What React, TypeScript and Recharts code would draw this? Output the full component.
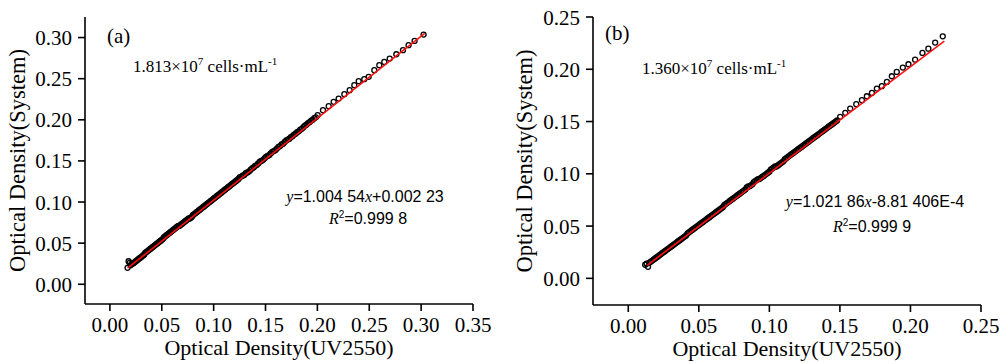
import React from 'react';
import { ScatterChart, Scatter, XAxis, YAxis } from 'recharts';

// Panel (a): UV2550 vs System, 1.813e7 cells/mL
const uvA = [
  0.017, 0.018, 0.019, 0.020, 0.021, 0.023, 0.025, 0.027, 0.029, 0.031,
  0.033, 0.035, 0.037, 0.039, 0.041, 0.043, 0.045, 0.047, 0.049, 0.051,
  0.053, 0.055, 0.057, 0.059, 0.061, 0.063, 0.065, 0.067, 0.069, 0.071,
  0.073, 0.075, 0.077, 0.079, 0.081, 0.083, 0.085, 0.087, 0.089, 0.091,
  0.093, 0.095, 0.097, 0.099, 0.101, 0.103, 0.105, 0.107, 0.109, 0.111,
  0.113, 0.115, 0.117, 0.119, 0.121, 0.123, 0.125, 0.128, 0.131, 0.134,
  0.137, 0.140, 0.143, 0.146, 0.149, 0.152, 0.155, 0.158, 0.161, 0.164,
  0.167, 0.170, 0.173, 0.176, 0.179, 0.182, 0.185, 0.188, 0.191, 0.194,
  0.197, 0.2003, 0.2054, 0.2109, 0.2157, 0.2205, 0.226, 0.2311, 0.2356, 0.2398,
  0.2452, 0.2494, 0.2549, 0.2597, 0.2645, 0.2697, 0.2761, 0.2825, 0.2879, 0.2937,
  0.3024,
];
const sysA = [
  0.020, 0.028, 0.026, 0.023, 0.025, 0.026, 0.028, 0.030, 0.032, 0.034,
  0.036, 0.039, 0.041, 0.043, 0.045, 0.047, 0.049, 0.051, 0.053, 0.055,
  0.058, 0.060, 0.062, 0.064, 0.066, 0.068, 0.070, 0.071, 0.073, 0.075,
  0.077, 0.079, 0.080, 0.082, 0.085, 0.087, 0.089, 0.091, 0.093, 0.095,
  0.097, 0.099, 0.101, 0.103, 0.105, 0.107, 0.109, 0.111, 0.113, 0.115,
  0.117, 0.119, 0.121, 0.123, 0.125, 0.127, 0.130, 0.132, 0.135, 0.137,
  0.141, 0.144, 0.147, 0.150, 0.153, 0.156, 0.159, 0.162, 0.165, 0.168,
  0.171, 0.175, 0.177, 0.180, 0.183, 0.186, 0.189, 0.193, 0.196, 0.199,
  0.202, 0.2056, 0.2117, 0.2165, 0.2218, 0.2258, 0.2311, 0.236, 0.2421, 0.247,
  0.2494, 0.2522, 0.2603, 0.2664, 0.2704, 0.2745, 0.2797, 0.2846, 0.2907, 0.2959,
  0.3036,
];
// in-between readings of the dense band
const uvA2 = [
  0.022, 0.024, 0.026, 0.028, 0.030, 0.032, 0.034, 0.036, 0.038, 0.040,
  0.042, 0.044, 0.046, 0.048, 0.050, 0.052, 0.054, 0.056, 0.058, 0.060,
  0.062, 0.064, 0.066, 0.068, 0.070, 0.072, 0.074, 0.076, 0.078, 0.080,
  0.082, 0.084, 0.086, 0.088, 0.090, 0.092, 0.094, 0.096, 0.098, 0.100,
  0.102, 0.104, 0.106, 0.108, 0.110, 0.112, 0.114, 0.116, 0.118, 0.120,
  0.122, 0.124, 0.1265, 0.1295, 0.1325, 0.1355, 0.1385, 0.1415, 0.1445, 0.1475,
  0.1505, 0.1535, 0.1565, 0.1595, 0.1625, 0.1655, 0.1685, 0.1715, 0.1745, 0.1775,
  0.1805, 0.1835, 0.1865, 0.1895, 0.1925, 0.1955, 0.1985,
];
const sysA2 = [
  0.025, 0.027, 0.029, 0.031, 0.033, 0.035, 0.038, 0.040, 0.042, 0.044,
  0.046, 0.048, 0.050, 0.052, 0.054, 0.057, 0.059, 0.061, 0.063, 0.065,
  0.067, 0.069, 0.071, 0.072, 0.074, 0.076, 0.078, 0.080, 0.081, 0.084,
  0.086, 0.088, 0.090, 0.092, 0.094, 0.096, 0.098, 0.100, 0.102, 0.104,
  0.106, 0.108, 0.110, 0.112, 0.114, 0.116, 0.118, 0.120, 0.122, 0.124,
  0.126, 0.128, 0.131, 0.133, 0.136, 0.139, 0.142, 0.145, 0.149, 0.151,
  0.155, 0.157, 0.161, 0.163, 0.167, 0.170, 0.173, 0.176, 0.179, 0.182,
  0.185, 0.188, 0.191, 0.194, 0.197, 0.200, 0.203,
];
const fitUvA = [0.017, 0.3035];
const fitSysA = [0.0195, 0.305];

// Panel (b): 1.360e7 cells/mL
const uvB = [
  0.012, 0.013, 0.014, 0.015, 0.016, 0.018, 0.020, 0.022, 0.024, 0.026,
  0.028, 0.030, 0.032, 0.034, 0.036, 0.038, 0.040, 0.042, 0.044, 0.046,
  0.048, 0.050, 0.052, 0.054, 0.056, 0.058, 0.060, 0.062, 0.064, 0.066,
  0.068, 0.070, 0.072, 0.074, 0.076, 0.078, 0.080, 0.082, 0.084, 0.086,
  0.088, 0.090, 0.092, 0.094, 0.096, 0.098, 0.100, 0.102, 0.104, 0.106,
  0.108, 0.110, 0.112, 0.114, 0.116, 0.118, 0.120, 0.122, 0.124, 0.126,
  0.128, 0.130, 0.132, 0.134, 0.136, 0.138, 0.140, 0.142, 0.144, 0.146,
  0.148, 0.1502, 0.1538, 0.1573, 0.1616, 0.1656, 0.1691, 0.1727, 0.1762, 0.1797,
  0.1833, 0.1868, 0.1903, 0.1946, 0.1986, 0.2033, 0.2085, 0.2127, 0.2175, 0.2229,
];
const sysB = [
  0.013, 0.014, 0.011, 0.015, 0.016, 0.018, 0.020, 0.022, 0.024, 0.026,
  0.028, 0.030, 0.032, 0.034, 0.036, 0.038, 0.040, 0.043, 0.045, 0.047,
  0.049, 0.051, 0.053, 0.055, 0.057, 0.059, 0.061, 0.063, 0.065, 0.067,
  0.070, 0.072, 0.074, 0.076, 0.078, 0.080, 0.082, 0.084, 0.087, 0.088,
  0.090, 0.093, 0.095, 0.096, 0.098, 0.100, 0.102, 0.105, 0.107, 0.108,
  0.110, 0.112, 0.115, 0.117, 0.119, 0.121, 0.123, 0.125, 0.127, 0.129,
  0.131, 0.133, 0.135, 0.137, 0.139, 0.141, 0.143, 0.145, 0.147, 0.149,
  0.151, 0.1545, 0.1583, 0.1624, 0.1666, 0.1704, 0.1742, 0.1774, 0.1815, 0.1838,
  0.1879, 0.1933, 0.1975, 0.2016, 0.2048, 0.2092, 0.2156, 0.2197, 0.2255, 0.2315,
];
const uvB2 = [
  0.017, 0.019, 0.021, 0.023, 0.025, 0.027, 0.029, 0.031, 0.033, 0.035,
  0.037, 0.039, 0.041, 0.043, 0.045, 0.047, 0.049, 0.051, 0.053, 0.055,
  0.057, 0.059, 0.061, 0.063, 0.065, 0.067, 0.069, 0.071, 0.073, 0.075,
  0.077, 0.079, 0.081, 0.083, 0.085, 0.087, 0.089, 0.091, 0.093, 0.095,
  0.097, 0.099, 0.101, 0.103, 0.105, 0.107, 0.109, 0.111, 0.113, 0.115,
  0.117, 0.119, 0.121, 0.123, 0.125, 0.127, 0.129, 0.131, 0.133, 0.135,
  0.137, 0.139, 0.141, 0.143, 0.145, 0.147,
];
const sysB2 = [
  0.017, 0.019, 0.021, 0.023, 0.025, 0.027, 0.029, 0.031, 0.033, 0.035,
  0.037, 0.039, 0.041, 0.044, 0.046, 0.048, 0.050, 0.052, 0.054, 0.056,
  0.058, 0.060, 0.062, 0.064, 0.066, 0.068, 0.071, 0.073, 0.075, 0.077,
  0.079, 0.081, 0.083, 0.085, 0.088, 0.089, 0.092, 0.094, 0.095, 0.097,
  0.099, 0.101, 0.104, 0.106, 0.107, 0.109, 0.111, 0.114, 0.116, 0.118,
  0.120, 0.122, 0.124, 0.126, 0.128, 0.130, 0.132, 0.134, 0.136, 0.138,
  0.140, 0.142, 0.144, 0.146, 0.148, 0.150,
];
const fitUvB = [0.0135, 0.224];
const fitSysB = [0.0125, 0.227];

const ticksA_X = [0, 0.05, 0.1, 0.15, 0.2, 0.25, 0.3, 0.35];
const ticksA_Y = [0, 0.05, 0.1, 0.15, 0.2, 0.25, 0.3];
const ticksB_X = [0, 0.05, 0.1, 0.15, 0.2, 0.25];
const ticksB_Y = [0, 0.05, 0.1, 0.15, 0.2, 0.25];

const SERIF = '"Liberation Serif", "Times New Roman", serif';
const SANS = '"Liberation Sans", Arial, sans-serif';

const toPoints = (xs: number[], ys: number[]) => xs.map((x, i) => ({ x, y: ys[i] }));

const Dot = (props: any) => (
  <circle cx={props.cx} cy={props.cy} r={2.5} fill="none" stroke="#000" strokeWidth={1.3} />
);
const NoDot = () => <g />;

const XTick = (props: any) => (
  <text
    x={props.x}
    y={props.y}
    dy="0.71em"
    textAnchor="middle"
    fontFamily={SERIF}
    fontSize={21}
    fill="#000"
  >
    {Number(props.payload.value).toFixed(2)}
  </text>
);

const YTick = (props: any) => (
  <text
    x={props.x}
    y={props.y}
    dy="0.36em"
    textAnchor="end"
    fontFamily={SERIF}
    fontSize={21}
    fill="#000"
  >
    {Number(props.payload.value).toFixed(2)}
  </text>
);

const yTitle = (x: number) => (props: any) => {
  const cy = props.viewBox.y + props.viewBox.height / 2;
  return (
    <text
      x={x}
      y={cy}
      transform={`rotate(-90, ${x}, ${cy})`}
      textAnchor="middle"
      fontFamily={SERIF}
      fontSize={22.5}
      fill="#000"
    >
      Optical Density(System)
    </text>
  );
};

const xTitle = (props: any) => (
  <text
    x={props.viewBox.x + props.viewBox.width / 2}
    y={props.viewBox.y + 51}
    textAnchor="middle"
    fontFamily={SERIF}
    fontSize={22}
    fill="#000"
  >
    Optical Density(UV2550)
  </text>
);

interface PanelProps {
  tag: string;
  cells: string;
  slope: string;
  r2: string;
  points: { x: number; y: number }[];
  fit: { x: number; y: number }[];
  xDomain: [number, number];
  yDomain: [number, number];
  xTicks: number[];
  yTicks: number[];
  yAxisWidth: number;
  right: number;
  xAxisHeight: number;
  yTitleX: number;
  tagX: number;
  tagY: number;
  cellsX: number;
  cellsY: number;
  eqX: number;
  eqY: number;
  r2X: number;
  r2Y: number;
}

const Panel: React.FC<PanelProps> = (p) => (
  <ScatterChart
    width={500}
    height={364}
    margin={{ top: 17, right: p.right, bottom: 0, left: 0 }}
  >
    <XAxis
      type="number"
      dataKey="x"
      domain={p.xDomain}
      ticks={p.xTicks}
      allowDataOverflow
      height={p.xAxisHeight}
      stroke="#000"
      strokeWidth={1.6}
      tickSize={7}
      tickMargin={6}
      tick={<XTick />}
      label={{ content: xTitle }}
    />
    <YAxis
      type="number"
      dataKey="y"
      domain={p.yDomain}
      ticks={p.yTicks}
      allowDataOverflow
      width={p.yAxisWidth}
      stroke="#000"
      strokeWidth={1.6}
      tickSize={7}
      tickMargin={6}
      tick={<YTick />}
      label={{ content: yTitle(p.yTitleX) }}
    />
    <Scatter data={p.points} shape={Dot} isAnimationActive={false} />
    <Scatter
      data={p.fit}
      shape={NoDot}
      line={{ stroke: '#ff1010', strokeWidth: 1.6 }}
      isAnimationActive={false}
    />
    <text x={p.tagX} y={p.tagY} fontFamily={SERIF} fontSize={21} fill="#000">
      {p.tag}
    </text>
    <text x={p.cellsX} y={p.cellsY} fontFamily={SERIF} fontSize={17} fill="#000">
      {p.cells}×10
      <tspan fontSize={11} dy={-7}>7</tspan>
      <tspan dy={7}>{'  cells·mL'}</tspan>
      <tspan fontSize={11} dy={-7}>-1</tspan>
    </text>
    <text x={p.eqX} y={p.eqY} textAnchor="middle" fontFamily={SANS} fontSize={16} fill="#000">
      <tspan fontFamily={SERIF} fontStyle="italic">y</tspan>
      {p.slope.split('x')[0]}
      <tspan fontFamily={SERIF} fontStyle="italic">x</tspan>
      {p.slope.split('x')[1]}
    </text>
    <text x={p.r2X} y={p.r2Y} textAnchor="middle" fontFamily={SANS} fontSize={16} fill="#000">
      <tspan fontFamily={SERIF} fontStyle="italic">R</tspan>
      <tspan fontSize={10} dy={-6}>2</tspan>
      <tspan dy={6}>{p.r2}</tspan>
    </text>
  </ScatterChart>
);

export default function App() {
  return (
    <div
      style={{
        position: 'absolute',
        left: 0,
        top: 0,
        width: 1000,
        height: 364,
        background: '#fff',
        fontFamily: SERIF,
      }}
    >
      <div style={{ position: 'absolute', left: 0, top: 0 }}>
        <Panel
          tag="(a)"
          cells="1.813"
          slope="=1.004 54x+0.002 23"
          r2="=0.999 8"
          points={[...toPoints(uvA, sysA), ...toPoints(uvA2, sysA2)]}
          fit={toPoints(fitUvA, fitSysA)}
          xDomain={[-0.024, 0.35]}
          yDomain={[-0.024, 0.325]}
          xTicks={ticksA_X}
          yTicks={ticksA_Y}
          yAxisWidth={85}
          right={27}
          xAxisHeight={60}
          yTitleX={25}
          tagX={107}
          tagY={43}
          cellsX={133}
          cellsY={72}
          eqX={365}
          eqY={202}
          r2X={368}
          r2Y={224}
        />
      </div>
      <div style={{ position: 'absolute', left: 500, top: 0 }}>
        <Panel
          tag="(b)"
          cells="1.360"
          slope="=1.021 86x-8.81 406E-4"
          r2="=0.999 9"
          points={[...toPoints(uvB, sysB), ...toPoints(uvB2, sysB2)]}
          fit={toPoints(fitUvB, fitSysB)}
          xDomain={[-0.025, 0.25]}
          yDomain={[-0.0255, 0.25]}
          xTicks={ticksB_X}
          yTicks={ticksB_Y}
          yAxisWidth={93}
          right={19}
          xAxisHeight={59}
          yTitleX={32}
          tagX={105}
          tagY={40}
          cellsX={142}
          cellsY={74}
          eqX={375}
          eqY={207}
          r2X={372}
          r2Y={232}
        />
      </div>
    </div>
  );
}
